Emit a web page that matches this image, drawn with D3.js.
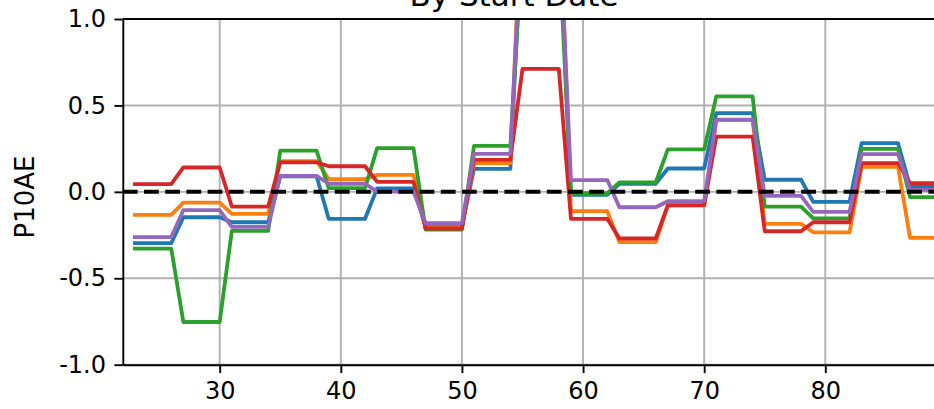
<!DOCTYPE html>
<html>
<head>
<meta charset="utf-8">
<script src="https://cdn.jsdelivr.net/npm/d3@7"></script>
<style>
html, body { margin: 0; padding: 0; background: #fff; }
svg { display: block; }
text { font-family: "DejaVu Sans", sans-serif; fill: #000; }
</style>
</head>
<body>
<svg id="chart" width="934" height="409"></svg>
<script>
// ---- data ----
const days = [23, 26, 27, 30, 31, 34, 35, 38, 39, 42, 43, 46, 47, 50, 51, 54, 55, 58, 59, 62, 63, 66, 67, 70, 71, 74, 75, 78, 79, 82, 83, 86, 87, 90];
const blueVals   = [-0.297, -0.297, -0.147, -0.147, -0.176, -0.176, 0.090, 0.090, -0.156, -0.156, 0.020, 0.020, -0.197, -0.197, 0.133, 0.133, 1.60, 1.60, -0.017, -0.017, 0.046, 0.046, 0.135, 0.135, 0.456, 0.456, 0.070, 0.070, -0.058, -0.058, 0.282, 0.282, 0.030, 0.030];
const orangeVals = [-0.133, -0.133, -0.062, -0.062, -0.127, -0.127, 0.178, 0.178, 0.074, 0.074, 0.098, 0.098, -0.205, -0.205, 0.166, 0.166, 1.80, 1.80, -0.112, -0.112, -0.291, -0.291, -0.080, -0.080, 0.415, 0.415, -0.185, -0.185, -0.234, -0.234, 0.145, 0.145, -0.266, -0.266];
const greenVals  = [-0.328, -0.328, -0.753, -0.753, -0.226, -0.226, 0.238, 0.238, 0.021, 0.021, 0.253, 0.253, -0.218, -0.218, 0.266, 0.266, 1.45, 1.45, -0.008, -0.008, 0.054, 0.054, 0.246, 0.246, 0.552, 0.552, -0.085, -0.085, -0.153, -0.153, 0.249, 0.249, -0.031, -0.031];
const redVals    = [0.045, 0.045, 0.141, 0.141, -0.085, -0.085, 0.171, 0.171, 0.148, 0.148, 0.058, 0.058, -0.212, -0.212, 0.185, 0.185, 0.712, 0.712, -0.156, -0.156, -0.270, -0.270, -0.077, -0.077, 0.320, 0.320, -0.228, -0.228, -0.176, -0.176, 0.166, 0.166, 0.050, 0.050];
const purpleVals = [-0.262, -0.262, -0.106, -0.106, -0.203, -0.203, 0.093, 0.093, 0.047, 0.047, 0.001, 0.001, -0.181, -0.181, 0.220, 0.220, 1.65, 1.65, 0.068, 0.068, -0.089, -0.089, -0.054, -0.054, 0.418, 0.418, -0.023, -0.023, -0.116, -0.116, 0.218, 0.218, 0.012, 0.012];
const seriesColors = ["#1f77b4", "#ff7f0e", "#2ca02c", "#d62728", "#9467bd"];
const xTicks = [30, 40, 50, 60, 70, 80];
const yTicks = [-1.0, -0.5, 0.0, 0.5, 1.0];
const titleText = "By Start Date";
const yLabel = "P10AE";

(function () {
const series = [blueVals, orangeVals, greenVals, redVals, purpleVals];

// ---- layout ----
const svg = d3.select("#chart");
const mLeft = 122.8, mTop = 19, mBottom = 364.7;
const pxPerDay = 12.112;
const xMin = 22, xMax = 91;
const mRight = mLeft + (xMax - xMin) * pxPerDay;

const x = d3.scaleLinear().domain([xMin, xMax]).range([mLeft, mRight]);
const y = d3.scaleLinear().domain([-1, 1]).range([mBottom, mTop]);

svg.append("defs").append("clipPath").attr("id", "clip")
  .append("rect").attr("x", mLeft).attr("y", mTop).attr("width", mRight - mLeft).attr("height", mBottom - mTop);

// grid
const grid = svg.append("g");
grid.selectAll("line.gx").data(xTicks).join("line").attr("class", "gx")
  .attr("x1", d => x(d)).attr("x2", d => x(d)).attr("y1", mTop).attr("y2", mBottom)
  .attr("stroke", "#b0b0b0").attr("stroke-width", 1.9);
grid.selectAll("line.gy").data(yTicks).join("line").attr("class", "gy")
  .attr("x1", mLeft).attr("x2", mRight).attr("y1", d => y(d)).attr("y2", d => y(d))
  .attr("stroke", "#b0b0b0").attr("stroke-width", 1.9);

// series lines
const plot = svg.append("g").attr("clip-path", "url(#clip)");
const line = d3.line().x((d, i) => x(days[i])).y(d => y(d));
series.forEach((vals, k) => {
  plot.append("path").datum(vals)
    .attr("d", line)
    .attr("fill", "none")
    .attr("stroke", seriesColors[k])
    .attr("stroke-width", 3.8)
    .attr("stroke-linejoin", "round")
    .attr("stroke-linecap", "square");
});

// zero dashed line
plot.append("line")
  .attr("x1", mLeft).attr("x2", mRight).attr("y1", y(0)).attr("y2", y(0))
  .attr("stroke", "#000").attr("stroke-width", 4)
  .attr("stroke-dasharray", "14.8,6.4");

// axes
const xAxis = d3.axisBottom(x).tickValues(xTicks).tickFormat(d3.format("d"))
  .tickSize(8.4).tickPadding(8.4).tickSizeOuter(0);
const gx = svg.append("g").attr("transform", `translate(0,${mBottom})`).call(xAxis);
gx.select(".domain").attr("stroke-width", 1.9).attr("stroke", "#000");
gx.selectAll(".tick line").attr("stroke-width", 1.9).attr("stroke", "#000");
gx.selectAll(".tick text").attr("font-size", 24).attr("font-family", "DejaVu Sans").attr("fill", "#000");

const yAxis = d3.axisLeft(y).tickValues(yTicks).tickFormat(d3.format(".1f"))
  .tickSize(8.4).tickPadding(8.4).tickSizeOuter(0);
const gy = svg.append("g").attr("transform", `translate(${mLeft},0)`).call(yAxis);
gy.select(".domain").attr("stroke-width", 1.9).attr("stroke", "#000");
gy.selectAll(".tick line").attr("stroke-width", 1.9).attr("stroke", "#000");
gy.selectAll(".tick text").attr("font-size", 24).attr("font-family", "DejaVu Sans").attr("fill", "#000")
  .text(d => d3.format(".1f")(d).replace("\u2212", "-"));

// top spine
svg.append("line").attr("x1", mLeft).attr("x2", mRight).attr("y1", mTop).attr("y2", mTop)
  .attr("stroke", "#000").attr("stroke-width", 1.9);

// title
svg.append("text").attr("x", 514).attr("y", 6).attr("text-anchor", "middle")
  .attr("font-size", 31).text(titleText);

// y label
svg.append("text").attr("transform", `translate(34,197) rotate(-90)`)
  .attr("text-anchor", "middle").attr("font-size", 26).text(yLabel);
})();
</script>
</body>
</html>
